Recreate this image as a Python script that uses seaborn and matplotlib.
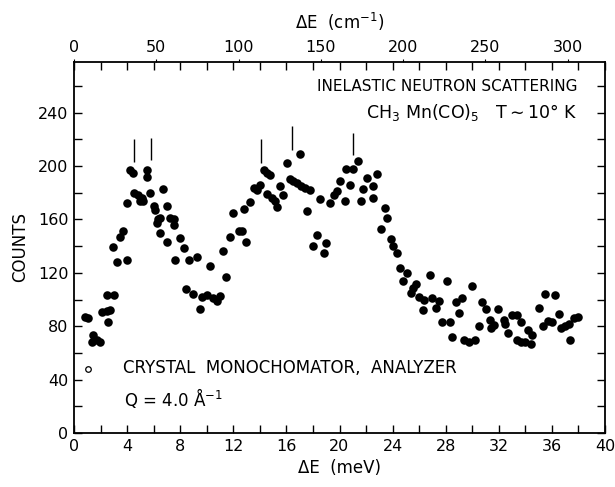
import matplotlib
matplotlib.use("Agg")
import matplotlib.pyplot as plt
import seaborn as sns
import pandas as pd
import numpy as np
from matplotlib.ticker import MultipleLocator

# ---- data ----
energy_meV = [0.83, 1.08, 1.34, 1.46, 1.71, 1.96, 2.09, 2.47, 2.47, 2.59, 2.72, 2.97, 3.02, 3.22,
              3.47, 3.72, 3.98, 3.98, 4.23, 4.48, 4.5, 4.8, 5.0, 5.1, 5.2, 5.53, 5.53, 5.74,
              5.99, 6.1, 6.24, 6.36, 6.49, 6.5, 6.74, 7.0, 7.0, 7.25, 7.5, 7.5, 7.62, 8.0,
              8.25, 8.45, 8.63, 8.96, 9.26, 9.5, 9.64, 10.0, 10.26, 10.5, 10.77, 11.0, 11.2,
              11.47, 11.73, 11.97, 12.4, 12.65, 12.78, 12.98, 13.28, 13.53, 13.79, 14.04,
              14.29, 14.54, 14.54, 14.79, 14.92, 15.17, 15.3, 15.55, 15.75, 16.05, 16.25,
              16.5, 16.8, 17.06, 17.1, 17.43, 17.56, 17.8, 18.0, 18.3, 18.5, 18.8, 19.0,
              19.3, 19.57, 19.8, 20.0, 20.4, 20.5, 20.8, 21.0, 21.4, 21.6, 21.8, 22.1, 22.5,
              22.55, 22.8, 23.1, 23.4, 23.6, 23.85, 24.05, 24.3, 24.55, 24.8, 25.06, 25.56,
              25.4, 25.8, 26.0, 26.3, 26.4, 26.8, 27.0, 27.25, 27.5, 27.7, 28.1, 28.3, 28.5,
              28.75, 29.0, 29.26, 29.4, 29.76, 30.0, 30.2, 30.5, 30.77, 31.0, 31.3, 31.4,
              31.65, 31.95, 32.4, 32.5, 32.7, 33.0, 33.36, 33.4, 33.66, 33.7, 34.0, 34.2,
              34.4, 34.5, 35.0, 35.3, 35.5, 35.7, 36.0, 36.2, 36.5, 36.7, 37.0, 37.3, 37.4,
              37.7, 38.0]
counts = [87, 86, 68.5, 73.5, 70, 68.5, 91, 91.5, 103.5, 83, 92, 139, 103.5, 128.5,
          147, 151, 130, 172, 197, 195, 180, 178, 174, 176, 174, 197, 192, 180,
          170, 167, 157, 160, 161, 150, 183, 170, 143, 161, 160, 156, 130, 146,
          138.5, 108, 130, 104, 132, 93, 102, 103.5, 125.5, 101, 99, 102.5, 136.5,
          117, 147, 165, 151, 151, 168, 143, 173, 183.5, 182, 186,
          197, 195, 179, 193.5, 176, 173.5, 169, 185, 178, 202, 190,
          188.5, 187, 209, 185, 183.5, 166.5, 182, 140, 148.5, 175, 135, 142,
          172, 178, 181, 188.5, 173.5, 198, 186, 198, 204, 173.5, 183, 191, 185,
          176, 194, 153, 168.5, 161, 145, 140, 135, 123.5, 114, 120, 108.5,
          105, 112, 102, 92, 100, 118.5, 101, 94, 99, 83, 114, 83.5, 72,
          98.5, 90, 101, 70, 68, 110, 70, 80, 98.5, 93, 85, 78.5,
          81, 93, 85, 82, 75, 88.5, 88.5, 70, 83, 68.5, 68, 77,
          67, 73.5, 94, 80, 104, 84, 83, 103.5, 89, 79, 80, 82, 70,
          86, 87]

open_point_E = [1.03]
open_point_C = [48]

marker_E = [4.53, 5.79, 14.1, 16.4, 21.0]
marker_lo = [203, 204.5, 202.5, 212, 208.5]
marker_hi = [220, 221, 220, 230, 225]

x_ticks = [0, 4, 8, 12, 16, 20, 24, 28, 32, 36, 40]
y_ticks = [0, 40, 80, 120, 160, 200, 240]
top_ticks_cm = [0, 50, 100, 150, 200, 250, 300]
MEV_TO_CM = 8.0655

df = pd.DataFrame({"E": energy_meV, "C": counts})

sns.set_theme(style="white")
plt.rcParams["font.family"] = ["DejaVu Sans"]
plt.rcParams["text.color"] = "black"
plt.rcParams["axes.labelcolor"] = "black"
plt.rcParams["xtick.color"] = "black"
plt.rcParams["ytick.color"] = "black"

fig = plt.figure(figsize=(6.15, 4.87), dpi=100)
ax = fig.add_axes([74 / 615, 1 - 433 / 487, (605 - 74) / 615, (433 - 62) / 487])

sns.scatterplot(data=df, x="E", y="C", ax=ax, color="black", s=38,
                linewidth=0, legend=False, zorder=3)
ax.scatter(open_point_E, open_point_C, s=16, facecolor="white",
           edgecolor="black", linewidth=0.9, zorder=3)
ax.vlines(marker_E, marker_lo, marker_hi, color="black", linewidth=1.0)

ax.set_xlim(0, 40)
ax.set_ylim(0, 278)
ax.set_xticks(x_ticks)
ax.set_xticklabels([str(t) for t in x_ticks])
ax.set_yticks(y_ticks)
ax.set_yticklabels([str(t) for t in y_ticks])
ax.xaxis.set_minor_locator(MultipleLocator(2))
ax.yaxis.set_minor_locator(MultipleLocator(20))
ax.tick_params(which="both", direction="in", length=6, width=1.0, color="black",
               top=True, right=True, bottom=True, left=True, labelsize=11.5,
               labelcolor="black", pad=4)
for sp in ax.spines.values():
    sp.set_color("black")
    sp.set_linewidth(1.3)

ax.set_xlabel("ΔE  (meV)", fontsize=12, color="black", labelpad=4)
ax.set_ylabel("COUNTS", fontsize=12, color="black", labelpad=6)

secax = ax.secondary_xaxis("top", functions=(lambda e: e * MEV_TO_CM,
                                             lambda c: c / MEV_TO_CM))
secax.set_xticks(top_ticks_cm)
secax.set_xticklabels([str(t) for t in top_ticks_cm])
secax.tick_params(direction="out", length=2, width=0.8, labelsize=11.5, pad=3,
                  colors="black")
secax.spines["top"].set_visible(False)
secax.set_xlabel("ΔE  (cm$^{-1}$)", fontsize=12, labelpad=8, color="black")

ax.text(37.96, 259.5, "INELASTIC NEUTRON SCATTERING", ha="right", va="center",
        fontsize=11, color="black")
ax.text(37.96, 240, "CH$_3$ Mn(CO)$_5$   T$\\sim$10° K", ha="right", va="center",
        fontsize=12.5, color="black")
ax.text(3.7, 48.8, "CRYSTAL  MONOCHOMATOR,  ANALYZER", ha="left", va="center",
        fontsize=12, color="black")
ax.text(3.8, 26, "Q = 4.0 Å$^{-1}$", ha="left", va="center", fontsize=12,
        color="black")

fig.savefig("out.png", dpi=100, facecolor="white")
